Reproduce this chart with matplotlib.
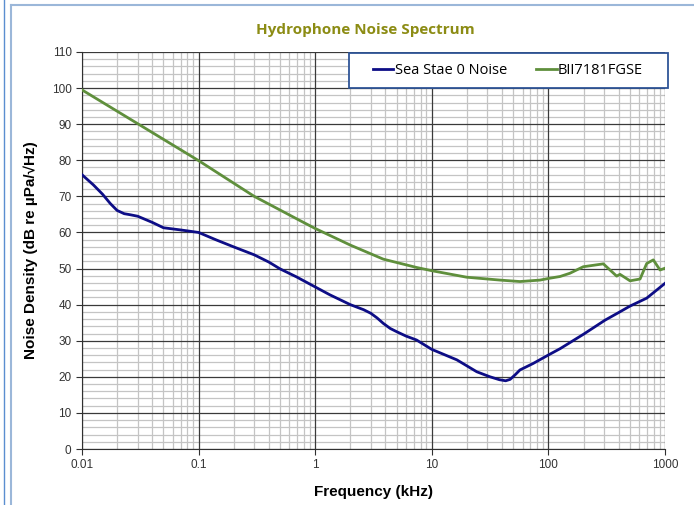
import matplotlib.pyplot as plt
from matplotlib.ticker import FixedLocator, NullFormatter, MultipleLocator
from matplotlib.lines import Line2D
from matplotlib.patches import Rectangle

# Sea State 0 noise (kHz, dB re uPa/sqrt(Hz))
ss0_freq = [0.01, 0.0125, 0.015, 0.0175, 0.02, 0.023, 0.026, 0.03, 0.04, 0.05, 0.07, 0.1, 0.14,
            0.2, 0.3, 0.4, 0.5, 0.69, 1.0, 1.34, 2.0, 2.6, 3.0, 3.4, 3.84, 4.4, 5.0, 6.0, 7.4,
            10, 16.4, 24.3, 31.6, 38, 43, 47, 52, 57, 74, 102, 126, 200, 306, 400, 501, 697, 1000]
ss0_db = [76, 73.2, 70.6, 68.0, 66.1, 65.2, 64.9, 64.5, 62.8, 61.3, 60.7, 60.0, 58.0,
          56.0, 53.8, 51.8, 49.9, 47.7, 44.9, 42.7, 40.0, 38.6, 37.6, 36.3, 34.8, 33.4, 32.5, 31.3, 30.2,
          27.6, 24.7, 21.4, 20.0, 19.2, 18.9, 19.3, 20.6, 21.9, 23.7, 26.2, 27.8, 31.8, 35.7, 37.8, 39.6, 41.8, 45.9]

# BII7181FGSE self noise
bii_freq = [0.01, 0.1, 0.3, 0.74, 1.0, 2.0, 3.84, 7.4, 10, 19.9, 38.5, 57, 84.7,
            102, 126, 153, 199, 296, 385, 411, 501, 611, 697, 794, 906, 1000]
bii_db = [99.5, 79.9, 70.0, 63.3, 61.1, 56.5, 52.6, 50.3, 49.4, 47.6, 46.8, 46.4, 46.8,
          47.3, 47.8, 48.7, 50.5, 51.3, 47.9, 48.4, 46.6, 47.1, 51.4, 52.4, 49.6, 50.1]

plt.rcParams['font.family'] = ['Liberation Sans', 'DejaVu Sans']

fig = plt.figure(figsize=(6.94, 5.05), dpi=100)
ax = fig.add_axes([82 / 694, 56 / 505, 583 / 694, 397 / 505])

ax.plot(ss0_freq, ss0_db, color='#0d0d86', lw=2.0, label='Sea Stae 0 Noise', zorder=4)
ax.plot(bii_freq, bii_db, color='#5f8f3c', lw=2.0, label='BII7181FGSE', zorder=4)

ax.set_xscale('log')
ax.set_xlim(0.01, 1000)
ax.set_ylim(0, 110)
ax.xaxis.set_major_locator(FixedLocator([0.01, 0.1, 1, 10, 100, 1000]))
ax.set_xticklabels(['0.01', '0.1', '1', '10', '100', '1000'])
minors = [m * 10.0 ** e for e in range(-2, 3) for m in range(2, 10)]
ax.xaxis.set_minor_locator(FixedLocator(minors))
ax.xaxis.set_minor_formatter(NullFormatter())
ax.yaxis.set_major_locator(MultipleLocator(10))
ax.yaxis.set_minor_locator(MultipleLocator(2))

# light minor grid, then dark major grid on top of it
ax.grid(which='minor', color='#c4c4c4', lw=0.9)
ax.set_axisbelow(True)
for v in ax.get_xticks():
    ax.axvline(v, color='#3a3a3a', lw=0.9, zorder=1)
for v in ax.get_yticks():
    ax.axhline(v, color='#3a3a3a', lw=0.9, zorder=1)

for s in ['top', 'right']:
    ax.spines[s].set_visible(False)
ax.spines['left'].set_color('#303030')
ax.spines['bottom'].set_color('#303030')
ax.tick_params(which='major', direction='out', length=4, color='#303030',
               labelsize=8.5, labelcolor='#333333')
ax.tick_params(which='minor', length=0)

ax.set_xlabel('Frequency (kHz)', fontsize=11, fontweight='bold', labelpad=10)
ax.set_ylabel('Noise Density (dB re µPa/√Hz)', fontsize=11, fontweight='bold', labelpad=10)

fig.text(365 / 694, 1 - 30 / 505, 'Hydrophone Noise Spectrum', ha='center', va='center',
         fontsize=11, fontweight='bold', color='#8c8c14', family=['Open Sans', 'DejaVu Sans'])

# legend box drawn separately so it can be wider than the entries
box = Rectangle((349 / 694, 1 - 88 / 505), 319 / 694, 35 / 505, transform=fig.transFigure,
                facecolor='white', edgecolor='#2f5597', lw=1.3, zorder=5)
fig.add_artist(box)
handles, labels = ax.get_legend_handles_labels()
leg = fig.legend(handles, labels, loc='center', ncol=2, bbox_to_anchor=(508 / 694, 1 - 70.5 / 505),
                 frameon=False, handlelength=1.4, handletextpad=0.1, columnspacing=2.0,
                 borderpad=0, borderaxespad=0,
                 prop={'family': ['Open Sans', 'DejaVu Sans'], 'size': 10.5})
leg.set_zorder(6)

# chart-area border lines
fig.add_artist(Line2D([11 / 694, 11 / 694], [0, 1 - 5 / 505], color='#9bb7d9', lw=1.5))
fig.add_artist(Line2D([11 / 694, 1], [1 - 5 / 505, 1 - 5 / 505], color='#9bb7d9', lw=1.5))
fig.add_artist(Line2D([4 / 694, 4 / 694], [0, 1], color='#5b8ed0', lw=1.0))

fig.savefig('out.png', dpi=100)
